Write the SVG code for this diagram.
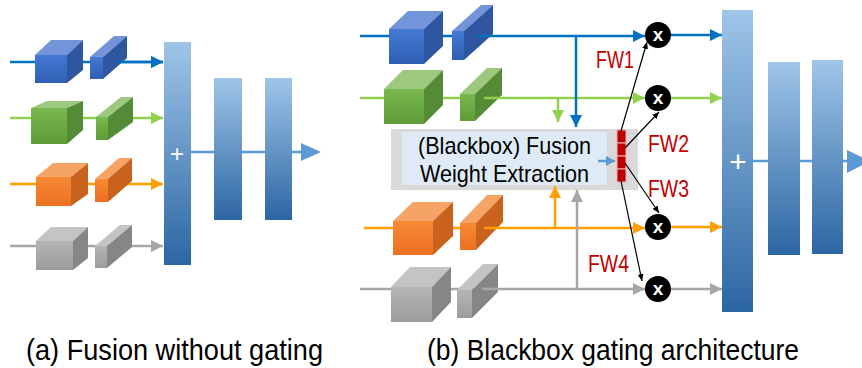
<svg xmlns="http://www.w3.org/2000/svg" width="862" height="368" viewBox="0 0 862 368">
<defs>
<linearGradient id="gBar" x1="0" y1="0" x2="0" y2="1"><stop offset="0" stop-color="#9fc5e8"/><stop offset="1" stop-color="#2c66a3"/></linearGradient>
<linearGradient id="gBlue" x1="0" y1="0" x2="0" y2="1"><stop offset="0" stop-color="#4479d4"/><stop offset="1" stop-color="#2f5fb3"/></linearGradient>
<linearGradient id="gGreen" x1="0" y1="0" x2="0" y2="1"><stop offset="0" stop-color="#78b84e"/><stop offset="1" stop-color="#5f9c37"/></linearGradient>
<linearGradient id="gOrange" x1="0" y1="0" x2="0" y2="1"><stop offset="0" stop-color="#f68a35"/><stop offset="1" stop-color="#ec7020"/></linearGradient>
<linearGradient id="gGray" x1="0" y1="0" x2="0" y2="1"><stop offset="0" stop-color="#b5b5b5"/><stop offset="1" stop-color="#9c9c9c"/></linearGradient>
<marker id="mBlue" markerUnits="userSpaceOnUse" markerWidth="12" markerHeight="12" viewBox="0 0 12 12" refX="12" refY="6" orient="auto"><path d="M0,0 L12,6 L0,12 z" fill="#0070c0"/></marker>
<marker id="mGreen" markerUnits="userSpaceOnUse" markerWidth="12" markerHeight="12" viewBox="0 0 12 12" refX="12" refY="6" orient="auto"><path d="M0,0 L12,6 L0,12 z" fill="#92d050"/></marker>
<marker id="mOrange" markerUnits="userSpaceOnUse" markerWidth="12" markerHeight="12" viewBox="0 0 12 12" refX="12" refY="6" orient="auto"><path d="M0,0 L12,6 L0,12 z" fill="#ffa000"/></marker>
<marker id="mGray" markerUnits="userSpaceOnUse" markerWidth="12" markerHeight="12" viewBox="0 0 12 12" refX="12" refY="6" orient="auto"><path d="M0,0 L12,6 L0,12 z" fill="#a6a6a6"/></marker>
<marker id="mLight" markerUnits="userSpaceOnUse" markerWidth="9" markerHeight="10" viewBox="0 0 9 10" refX="9" refY="5" orient="auto"><path d="M0,0 L9,5 L0,10 z" fill="#5b9bd5"/></marker>
<marker id="mBlack" markerUnits="userSpaceOnUse" markerWidth="7" markerHeight="6" viewBox="0 0 7 6" refX="7" refY="3" orient="auto"><path d="M0,0 L7,3 L0,6 z" fill="#000"/></marker>
</defs>
<style>
.bf{fill:url(#gBlue)} .bt{fill:#7394d9} .bs{fill:#2f56a0}
.gf{fill:url(#gGreen)} .gt{fill:#9cc97e} .gs{fill:#558a36}
.of{fill:url(#gOrange)} .ot{fill:#f5a466} .os{fill:#c9621c}
.af{fill:url(#gGray)} .at{fill:#c4c4c4} .as{fill:#868686}
.bar{fill:url(#gBar)}
.ln{fill:none;stroke-width:2.5}
.lb{stroke:#0070c0} .lg{stroke:#92d050} .lo{stroke:#ffa000} .la{stroke:#a6a6a6}
.lo2{stroke:#5b9bd5;stroke-width:2.5;fill:none}
.thin{stroke:#000;stroke-width:1.2;fill:none}
.plus{font-family:"Liberation Sans",Arial,sans-serif;fill:#fff;text-anchor:middle}
.fw{font-family:"Liberation Sans",Arial,sans-serif;font-size:24px;fill:#c00000}
.cap{font-family:"Liberation Sans",Arial,sans-serif;font-size:30px;fill:#000}
.box{font-family:"Liberation Sans",Arial,sans-serif;font-size:24px;fill:#000}
.xx{font-family:"Liberation Sans",Arial,sans-serif;font-size:19px;font-weight:bold;fill:#fff;text-anchor:middle}
.red{fill:#c00000;stroke:#f4b6b6;stroke-width:1}
</style>
<rect width="862" height="368" fill="#fff"/>

<!-- connectors drawn under cubes / bars -->
<g id="connectors-under">
<path class="ln lb" d="M10,62 H163" marker-end="url(#mBlue)"/>
<path class="ln lg" d="M10,118 H163" marker-end="url(#mGreen)"/>
<path class="ln lo" d="M10,184 H163" marker-end="url(#mOrange)"/>
<path class="ln la" d="M10,246 H163" marker-end="url(#mGray)"/>
<path class="lo2" d="M191,152 H301"/>
<polygon points="301,143 301,161 321,152" fill="#5b9bd5"/>
<path class="ln lb" d="M360,36 H470"/>
<path class="ln lg" d="M360,98 H480"/>
<path class="ln lo" d="M364,228 H480"/>
<path class="ln la" d="M360,289 H480"/>
<path class="lo2" d="M753,161 H847"/>
<polygon points="847,150 847,173 870,161" fill="#5b9bd5"/>
</g>

<!-- panel (a) cubes -->
<g id="a-blue">
<rect class="bf" x="35" y="55" width="32" height="28"/><polygon class="bt" points="35,55 67,55 83,40 51,40"/><polygon class="bs" points="67,55 83,40 83,70 67,83"/>
<rect class="bf" x="90" y="57" width="13" height="22"/><polygon class="bt" points="90,57 103,57 127,36 114,36"/><polygon class="bs" points="103,57 127,36 127,58 103,79"/>
</g>
<g id="a-green">
<rect class="gf" x="31" y="108" width="36" height="36"/><polygon class="gt" points="31,108 67,108 83,101 47,101"/><polygon class="gs" points="67,108 83,101 83,130 67,144"/>
<rect class="gf" x="96" y="117" width="12" height="23"/><polygon class="gt" points="96,117 108,117 133,97 121,97"/><polygon class="gs" points="108,117 133,97 133,122 108,140"/>
</g>
<g id="a-orange">
<rect class="of" x="36" y="177" width="35" height="29"/><polygon class="ot" points="36,177 71,177 88,163 53,163"/><polygon class="os" points="71,177 88,163 88,194 71,206"/>
<rect class="of" x="95" y="179" width="13" height="23"/><polygon class="ot" points="95,179 108,179 132,158 119,158"/><polygon class="os" points="108,179 132,158 132,181 108,202"/>
</g>
<g id="a-gray">
<rect class="af" x="36" y="241" width="37" height="29"/><polygon class="at" points="36,241 73,241 88,227 51,227"/><polygon class="as" points="73,241 88,227 88,258 73,270"/>
<rect class="af" x="95" y="246" width="12" height="22"/><polygon class="at" points="95,246 107,246 132,225 120,225"/><polygon class="as" points="107,246 132,225 132,247 107,268"/>
</g>
<g id="a-bars">
<rect class="bar" x="164" y="42" width="27" height="223"/>
<text class="plus" x="177" y="162" font-size="24">+</text>
<rect class="bar" x="214" y="78" width="28" height="142"/>
<rect class="bar" x="265" y="78" width="27" height="142"/>
</g>

<!-- panel (b) cubes -->
<g id="b-blue">
<rect class="bf" x="389" y="29" width="35" height="35"/><polygon class="bt" points="389,29 424,29 443,11 408,11"/><polygon class="bs" points="424,29 443,11 443,46 424,64"/>
<rect class="bf" x="452" y="31" width="12" height="29"/><polygon class="bt" points="452,31 464,31 493,5 481,5"/><polygon class="bs" points="464,31 493,5 493,34 464,60"/>
</g>
<g id="b-green">
<rect class="gf" x="384" y="89" width="40" height="35"/><polygon class="gt" points="384,89 424,89 443,70 403,70"/><polygon class="gs" points="424,89 443,70 443,105 424,124"/>
<rect class="gf" x="460" y="94" width="15" height="27"/><polygon class="gt" points="460,94 475,94 502,68 487,68"/><polygon class="gs" points="475,94 502,68 502,95 475,121"/>
</g>
<g id="b-orange">
<rect class="of" x="393" y="221" width="40" height="34"/><polygon class="ot" points="393,221 433,221 453,202 413,202"/><polygon class="os" points="433,221 453,202 453,236 433,255"/>
<rect class="of" x="460" y="223" width="16" height="27"/><polygon class="ot" points="460,223 476,223 503,195 487,195"/><polygon class="os" points="476,223 503,195 503,222 476,250"/>
</g>
<g id="b-gray">
<rect class="af" x="391" y="287" width="41" height="35"/><polygon class="at" points="391,287 432,287 451,267 410,267"/><polygon class="as" points="432,287 451,267 451,302 432,322"/>
<rect class="af" x="457" y="290" width="15" height="28"/><polygon class="at" points="457,290 472,290 498,264 483,264"/><polygon class="as" points="472,290 498,264 498,292 472,318"/>
</g>

<g id="b-extract">
<rect x="391" y="129" width="247" height="61" fill="#d9d9d9"/>
<rect x="402" y="132" width="205" height="53" fill="#deebf7"/>
<text class="box" x="418" y="154" textLength="173" lengthAdjust="spacingAndGlyphs">(Blackbox) Fusion</text>
<text class="box" x="420" y="182" textLength="169" lengthAdjust="spacingAndGlyphs">Weight Extraction</text>
</g>
<g id="b-weights">
<rect class="red" x="617" y="130" width="9" height="13"/>
<rect class="red" x="617" y="143" width="9" height="13"/>
<rect class="red" x="617" y="156" width="9" height="13"/>
<rect class="red" x="617" y="169" width="9" height="13"/>
</g>
<g id="b-mult1"><circle cx="658" cy="35" r="13" fill="#000"/><text class="xx" x="658" y="41">x</text></g>
<g id="b-mult2"><circle cx="658" cy="98" r="13" fill="#000"/><text class="xx" x="658" y="104">x</text></g>
<g id="b-mult3"><circle cx="658" cy="227" r="13" fill="#000"/><text class="xx" x="658" y="233">x</text></g>
<g id="b-mult4"><circle cx="658" cy="289" r="13" fill="#000"/><text class="xx" x="658" y="295">x</text></g>
<g id="b-bars">
<rect class="bar" x="722" y="10" width="31" height="302"/>
<text class="plus" x="738" y="172" font-size="30">+</text>
<rect class="bar" x="768" y="62" width="32" height="193"/>
<rect class="bar" x="812" y="60" width="31" height="194"/>
</g>

<!-- connectors -->
<g id="connectors">
<path class="ln lb" d="M118,62 H163" marker-end="url(#mBlue)"/>
<path class="ln lb" d="M477,36 H645" marker-end="url(#mBlue)"/>
<path class="ln lg" d="M484,98 H645" marker-end="url(#mGreen)"/>
<path class="ln lo" d="M484,228 H645" marker-end="url(#mOrange)"/>
<path class="ln la" d="M482,289 H645" marker-end="url(#mGray)"/>
<path class="ln lb" d="M576,36 V127" marker-end="url(#mBlue)"/>
<path class="ln lg" d="M558,98 V122" marker-end="url(#mGreen)"/>
<path class="ln lo" d="M555,228 V186" marker-end="url(#mOrange)"/>
<path class="ln la" d="M577,289 V190" marker-end="url(#mGray)"/>
<path class="ln lb" d="M671,35 H722" marker-end="url(#mBlue)"/>
<path class="ln lg" d="M671,98 H722" marker-end="url(#mGreen)"/>
<path class="ln lo" d="M671,227 H722" marker-end="url(#mOrange)"/>
<path class="ln la" d="M671,289 H722" marker-end="url(#mGray)"/>
<path class="lo2" d="M598,161 H615" marker-end="url(#mLight)"/>
<path class="thin" d="M621,131 L647,42" marker-end="url(#mBlack)"/>
<path class="thin" d="M625,148 L659,112" marker-end="url(#mBlack)"/>
<path class="thin" d="M625,163 L659,213" marker-end="url(#mBlack)"/>
<path class="thin" d="M621,181 L642,281" marker-end="url(#mBlack)"/>
</g>

<g id="labels">
<text class="fw" x="596" y="68" textLength="38" lengthAdjust="spacingAndGlyphs">FW1</text>
<text class="fw" x="648" y="152" textLength="41" lengthAdjust="spacingAndGlyphs">FW2</text>
<text class="fw" x="648" y="197" textLength="41" lengthAdjust="spacingAndGlyphs">FW3</text>
<text class="fw" x="588" y="272" textLength="41" lengthAdjust="spacingAndGlyphs">FW4</text>
<text class="cap" x="26" y="360" textLength="297" lengthAdjust="spacingAndGlyphs">(a) Fusion without gating</text>
<text class="cap" x="427" y="360" textLength="372" lengthAdjust="spacingAndGlyphs">(b) Blackbox gating architecture</text>
</g>
</svg>
